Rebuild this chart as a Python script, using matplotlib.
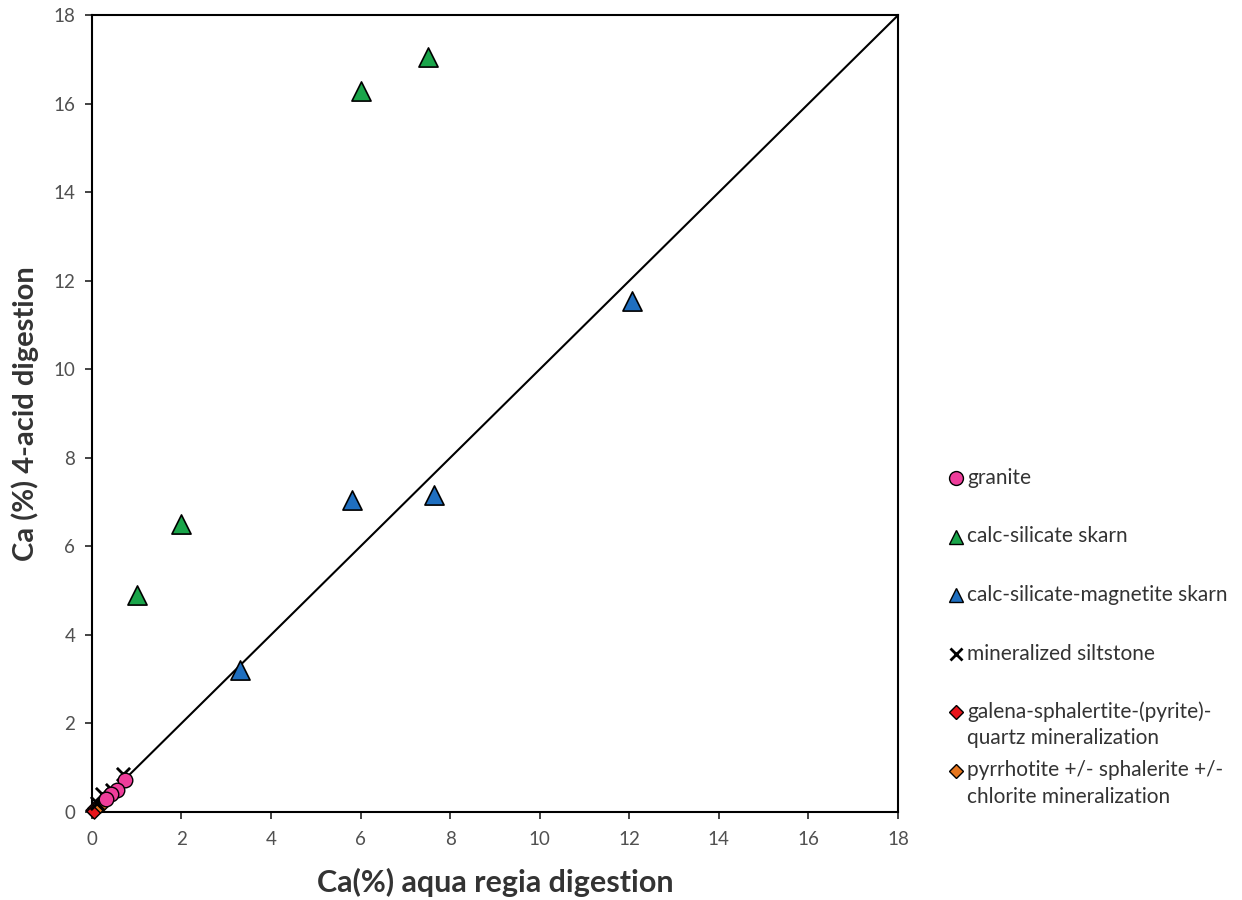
import matplotlib
matplotlib.use("Agg")
import matplotlib.pyplot as plt
from matplotlib.lines import Line2D

plt.rcParams['font.family'] = ['Lato', 'DejaVu Sans']

granite_x = [0.74, 0.55, 0.42, 0.32]
granite_y = [0.72, 0.50, 0.40, 0.30]
calc_sil_x = [1.0, 2.0, 6.0, 7.5]
calc_sil_y = [4.9, 6.5, 16.3, 17.05]
calc_mag_x = [3.3, 5.8, 7.65, 12.05]
calc_mag_y = [3.2, 7.05, 7.15, 11.55]
silt_x = [0.70, 0.45, 0.22, 0.12]
silt_y = [0.85, 0.50, 0.40, 0.20]
galena_x = [0.02, 0.07, 0.04]
galena_y = [0.05, 0.09, 0.02]
pyrr_x = [0.30, 0.18, 0.25]
pyrr_y = [0.27, 0.16, 0.20]

labels = ['granite', 'calc-silicate skarn', 'calc-silicate-magnetite skarn',
          'mineralized siltstone', 'galena-sphalertite-(pyrite)-\nquartz mineralization',
          'pyrrhotite +/- sphalerite +/-\nchlorite mineralization']

fig = plt.figure(figsize=(12.42, 9), dpi=100)
ax = fig.add_axes([0.074, 0.098, 0.649, 0.885])

ax.plot([0, 18], [0, 18], color='black', lw=1.5, zorder=1)

ax.scatter(galena_x, galena_y, marker='D', s=60, c='#e8141b', edgecolors='black', linewidths=1, zorder=3, clip_on=False)
ax.scatter(pyrr_x, pyrr_y, marker='D', s=60, c='#e6761e', edgecolors='black', linewidths=1, zorder=3, clip_on=False)
ax.scatter(silt_x, silt_y, marker='x', s=90, c='black', linewidths=2, zorder=3, clip_on=False)
ax.scatter(granite_x, granite_y, marker='o', s=110, c='#ee3d9b', edgecolors='black', linewidths=1, zorder=3, clip_on=False)
ax.scatter(calc_sil_x, calc_sil_y, marker='^', s=190, c='#1aa54a', edgecolors='black', linewidths=1.2, zorder=3, clip_on=False)
ax.scatter(calc_mag_x, calc_mag_y, marker='^', s=190, c='#1f6fc0', edgecolors='black', linewidths=1.2, zorder=3, clip_on=False)

ax.set_xlim(0, 18)
ax.set_ylim(0, 18)
ax.set_xticks(range(0, 19, 2))
ax.set_yticks(range(0, 19, 2))
ax.tick_params(direction='out', length=5, width=1.2, labelsize=13.5, colors='#222222', labelcolor='#505050')
ax.tick_params(axis='x', pad=9)
ax.tick_params(axis='y', pad=7)
for s in ax.spines.values():
    s.set_linewidth(1.5)
    s.set_color('black')

ax.set_xlabel('Ca(%) aqua regia digestion', fontsize=22, fontweight='bold', color='#333333', labelpad=14)
ax.set_ylabel('Ca (%) 4-acid digestion', fontsize=21, fontweight='bold', color='#333333', labelpad=10)

# legend drawn manually (figure pixel coordinates)
W, H = 1242, 900
handle_props = [
    dict(marker='o', ms=10, mfc='#ee3d9b', mec='black'),
    dict(marker='^', ms=10, mfc='#1aa54a', mec='black'),
    dict(marker='^', ms=10, mfc='#1f6fc0', mec='black'),
    dict(marker='x', ms=9, mec='black', mew=2),
    dict(marker='D', ms=7.5, mfc='#e8141b', mec='black'),
    dict(marker='D', ms=7.5, mfc='#e6761e', mec='black'),
]
y0, step, line_h = 478, 58.5, 26.5
for i, (lab, hp) in enumerate(zip(labels, handle_props)):
    yc = y0 + i * step
    fig.add_artist(Line2D([956 / W], [1 - yc / H], ls='', transform=fig.transFigure, **hp))
    for j, line in enumerate(lab.split('\n')):
        fig.text(967 / W, 1 - (yc + j * line_h) / H, line, fontsize=15, color='#333333',
                 ha='left', va='center')

fig.savefig('out.png', dpi=100)
